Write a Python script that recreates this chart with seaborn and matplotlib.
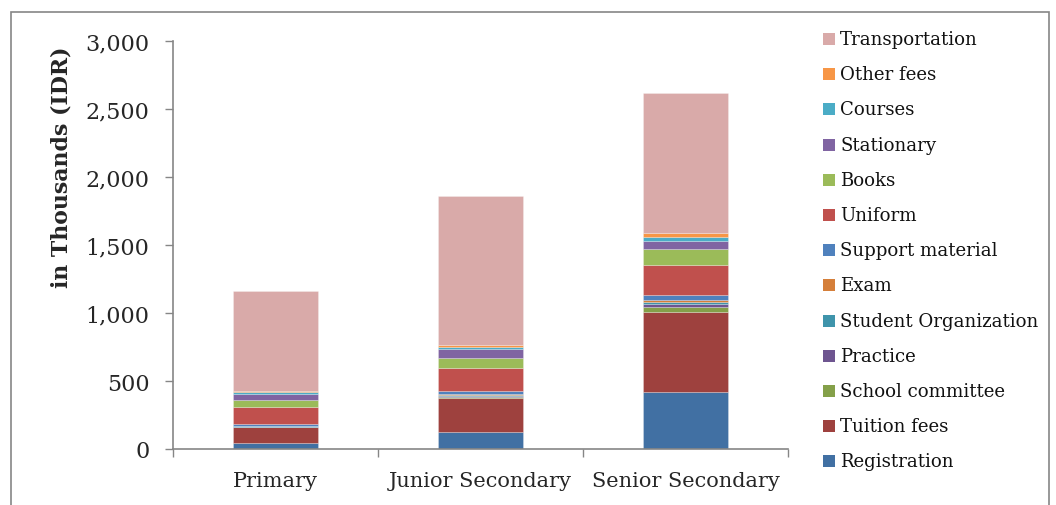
import matplotlib
matplotlib.use("Agg")
import matplotlib.pyplot as plt
from matplotlib.patches import Rectangle
from matplotlib.ticker import FuncFormatter, FixedLocator
import numpy as np
import seaborn as sns

# School levels on the x axis
levels = ["Primary", "Junior Secondary", "Senior Secondary"]

# Cost components, stacked from the bottom up (in thousands IDR)
registration = [46, 127, 417]
tuition_fees = [114, 248, 594]
school_committee = [2, 10, 34]
practice = [1, 8, 22]
student_organization = [3, 6, 13]
exam = [4, 6, 19]
support_material = [14, 24, 37]
uniform = [125, 165, 216]
books = [49, 76, 118]
stationary = [49, 66, 63]
courses = [10, 17, 27]
other_fees = [10, 15, 28]
transportation = [736, 1094, 1032]

series = [
    ("Registration", registration, "#4170A3"),
    ("Tuition fees", tuition_fees, "#9E413E"),
    ("School committee", school_committee, "#84A049"),
    ("Practice", practice, "#6E5590"),
    ("Student Organization", student_organization, "#3F94AB"),
    ("Exam", exam, "#D57F3A"),
    ("Support material", support_material, "#4F81BD"),
    ("Uniform", uniform, "#C0504D"),
    ("Books", books, "#9BBB59"),
    ("Stationary", stationary, "#8064A2"),
    ("Courses", courses, "#4BACC6"),
    ("Other fees", other_fees, "#F79646"),
    ("Transportation", transportation, "#D9AAA9"),
]

sns.set_theme(style="white")
plt.rcParams["font.family"] = ["DejaVu Serif"]

fig = plt.figure(figsize=(10.56, 5.06), dpi=100)
ax = fig.add_axes([173 / 1056, 1 - 450 / 506, (788 - 173) / 1056, (450 - 42.3) / 506])

bottom = np.zeros(len(levels))
handles = []
for name, vals, col in series:
    sns.barplot(x=levels, y=vals, bottom=bottom, color=col, saturation=1,
                width=0.415, ax=ax, edgecolor=(1, 1, 1, 0.35), linewidth=0.5,
                label=name)
    bottom = bottom + np.array(vals)
    handles.append((name, col))

ax.set_ylim(0, 3000)
ax.set_xlim(-0.5, 2.5)
ax.set_yticks(np.arange(0, 3001, 500))
ax.yaxis.set_major_formatter(FuncFormatter(lambda v, p: f"{int(v):,}"))
ax.set_ylabel("in Thousands (IDR)", fontsize=15.8, fontweight="bold")
ax.yaxis.set_label_coords(-0.164, 0.694)
ax.set_xlabel("")

axis_gray = "#868686"
for side in ["top", "right"]:
    ax.spines[side].set_visible(False)
for side in ["left", "bottom"]:
    ax.spines[side].set_color(axis_gray)
    ax.spines[side].set_linewidth(1.2)

ax.tick_params(axis="y", which="major", direction="out", length=6, width=1,
               color=axis_gray, labelsize=16, pad=11, left=True)
ax.tick_params(axis="x", which="major", length=0, labelsize=15, pad=16)
ax.xaxis.set_minor_locator(FixedLocator([-0.5, 0.5, 1.5, 2.5]))
ax.tick_params(axis="x", which="minor", direction="out", length=6, width=1,
               color=axis_gray, bottom=True)
ax.grid(False)
if ax.get_legend() is not None:
    ax.get_legend().remove()

# Legend, listed top to bottom in reverse stacking order
x_box = 823 / 1056
x_txt = 840 / 1056
y_first = 40
step = 35.2
for i, (name, col) in enumerate(reversed(handles)):
    yc = y_first + i * step
    fig.patches.append(Rectangle((x_box, 1 - (yc + 6) / 506), 12 / 1056, 12 / 506,
                                 transform=fig.transFigure, facecolor=col,
                                 edgecolor="none"))
    fig.text(x_txt, 1 - yc / 506, name, fontsize=13.1, va="center", ha="left",
             color="#111111")

# Outer frame around the chart
fig.patches.append(Rectangle((11 / 1056, -0.02), (1049 - 11) / 1056, 1 - 13 / 506 + 0.02,
                             transform=fig.transFigure, facecolor="none",
                             edgecolor=axis_gray, linewidth=1.2))

fig.savefig("out.png", dpi=100)
